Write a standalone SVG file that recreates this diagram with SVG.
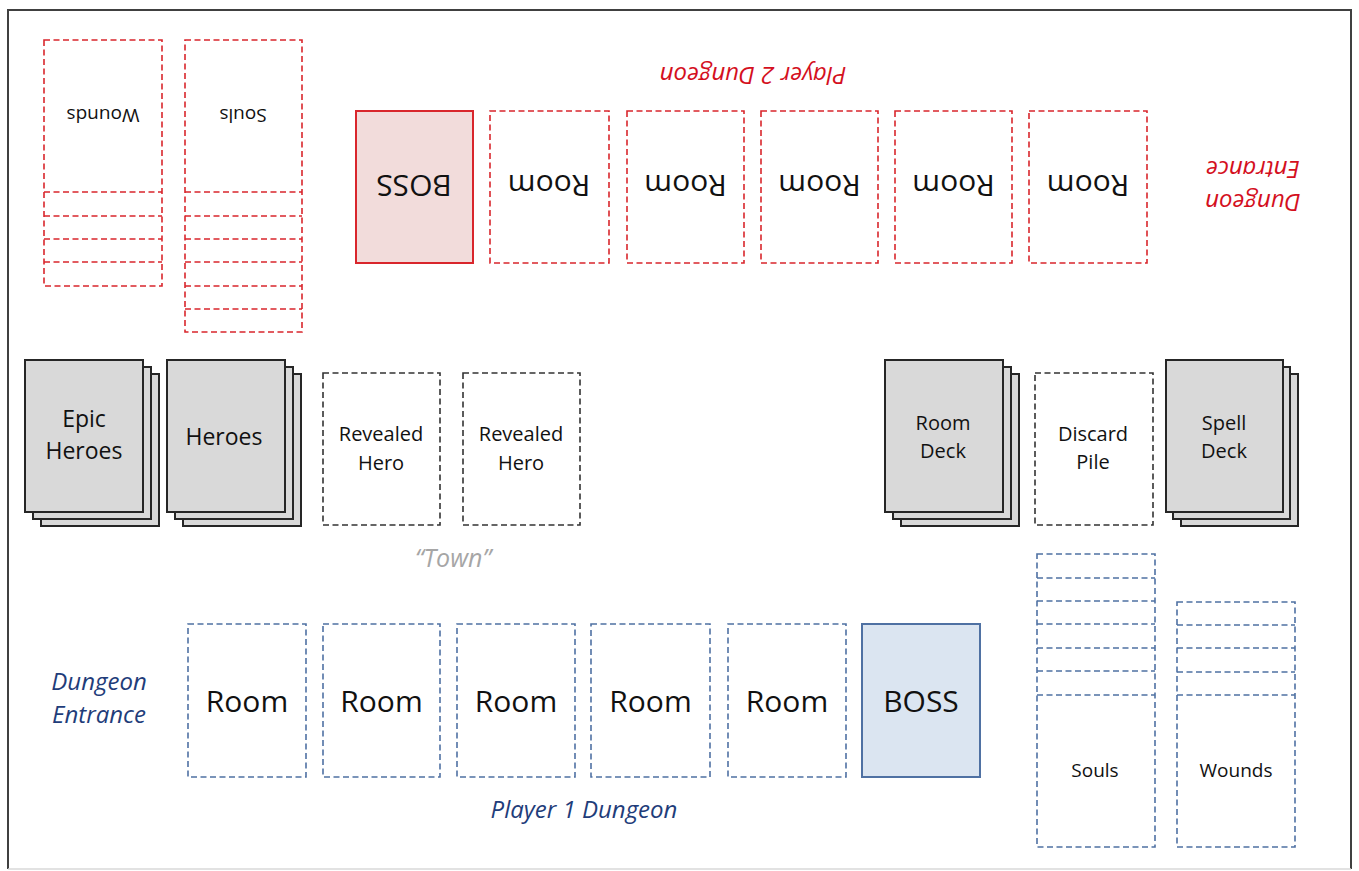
<svg xmlns="http://www.w3.org/2000/svg" width="1359" height="871" viewBox="0 0 1359 871">
<style>
text{font-family:"Open Sans","Noto Sans","Liberation Sans",sans-serif;text-anchor:middle;fill:#111}
.red{fill:none;stroke:#d9262c;stroke-width:1.6;stroke-dasharray:6 3.5}
.blue{fill:none;stroke:#4f71a3;stroke-width:1.6;stroke-dasharray:6 3.5}
.blk{fill:none;stroke:#333;stroke-width:1.6;stroke-dasharray:6 3.5}
.card{fill:#d9d9d9;stroke:#262626;stroke-width:2}
.big{font-size:30px}
.mid{font-size:23px}
.sm{font-size:20px}
.xs{font-size:19px}
.lblr{font-size:24px;font-style:italic;fill:#d4101e}
.lblb{font-size:24px;font-style:italic;fill:#1f3d7a}
.town{font-size:25px;font-style:italic;fill:#a6a6a6}
</style>
<rect x="0" y="0" width="1359" height="871" fill="#fff"/>
<path d="M8 869 V10 H1351 V869" fill="none" stroke="#404040" stroke-width="2"/>
<line x1="8" y1="869" x2="1351" y2="869" stroke="#d9d9d9" stroke-width="1.5"/>
<g id="connectors"></g>

<!-- Player 2 (top, upside-down) -->
<g id="p2-wounds">
<rect class="red" x="44" y="40" width="118" height="246"/>
<path class="red" d="M44 192H162M44 216H162M44 239H162M44 262H162"/>
<text class="xs" x="103" y="122.3" transform="rotate(180 103 115.5)">Wounds</text>
</g>
<g id="p2-souls">
<rect class="red" x="185" y="40" width="117" height="292"/>
<path class="red" d="M185 192H302M185 216H302M185 239H302M185 262H302M185 286H302M185 309H302"/>
<text class="xs" x="243" y="122.3" transform="rotate(180 243 115.5)">Souls</text>
</g>
<g id="p2-title">
<text class="lblr" x="753" y="83.5" transform="rotate(180 753 75)">Player 2 Dungeon</text>
</g>
<g id="p2-boss">
<rect x="356" y="111" width="117" height="152" fill="#f2dcdb" stroke="#d9262c" stroke-width="2"/>
<text class="big" x="414" y="195.5" transform="rotate(180 414 185)">BOSS</text>
</g>
<g id="p2-room1"><rect class="red" x="490" y="111" width="119" height="152"/><text class="big" x="549" y="195.5" transform="rotate(180 549 185)">Room</text></g>
<g id="p2-room2"><rect class="red" x="627" y="111" width="117" height="152"/><text class="big" x="685.5" y="195.5" transform="rotate(180 685.5 185)">Room</text></g>
<g id="p2-room3"><rect class="red" x="761" y="111" width="117" height="152"/><text class="big" x="819.5" y="195.5" transform="rotate(180 819.5 185)">Room</text></g>
<g id="p2-room4"><rect class="red" x="895" y="111" width="117" height="152"/><text class="big" x="953.5" y="195.5" transform="rotate(180 953.5 185)">Room</text></g>
<g id="p2-room5"><rect class="red" x="1029" y="111" width="118" height="152"/><text class="big" x="1088" y="195.5" transform="rotate(180 1088 185)">Room</text></g>
<g id="p2-entrance" transform="rotate(180 1253 185)">
<text class="lblr" x="1253" y="176.5">Dungeon</text>
<text class="lblr" x="1253" y="209.5">Entrance</text>
</g>

<!-- Middle row -->
<g id="epic-heroes">
<rect class="card" x="41" y="374" width="118" height="152"/>
<rect class="card" x="33" y="367" width="118" height="152"/>
<rect class="card" x="25" y="360" width="118" height="152"/>
<text class="mid" x="84" y="427">Epic</text>
<text class="mid" x="84" y="459">Heroes</text>
</g>
<g id="heroes">
<rect class="card" x="183" y="374" width="118" height="152"/>
<rect class="card" x="175" y="367" width="118" height="152"/>
<rect class="card" x="167" y="360" width="118" height="152"/>
<text class="mid" x="224" y="445">Heroes</text>
</g>
<g id="revealed1">
<rect class="blk" x="323" y="373" width="117" height="152"/>
<text class="sm" x="381" y="441">Revealed</text>
<text class="sm" x="381" y="470">Hero</text>
</g>
<g id="revealed2">
<rect class="blk" x="463" y="373" width="117" height="152"/>
<text class="sm" x="521" y="441">Revealed</text>
<text class="sm" x="521" y="470">Hero</text>
</g>
<g id="town"><text class="town" x="453" y="567">“Town”</text></g>
<g id="room-deck">
<rect class="card" x="901" y="374" width="118" height="152"/>
<rect class="card" x="893" y="367" width="118" height="152"/>
<rect class="card" x="885" y="360" width="118" height="152"/>
<text class="sm" x="943" y="430">Room</text>
<text class="sm" x="943" y="458">Deck</text>
</g>
<g id="discard">
<rect class="blk" x="1035" y="373" width="118" height="152"/>
<text class="sm" x="1093" y="441">Discard</text>
<text class="sm" x="1093" y="469">Pile</text>
</g>
<g id="spell-deck">
<rect class="card" x="1181" y="374" width="117" height="152"/>
<rect class="card" x="1173" y="367" width="117" height="152"/>
<rect class="card" x="1166" y="360" width="117" height="152"/>
<text class="sm" x="1224" y="430">Spell</text>
<text class="sm" x="1224" y="458">Deck</text>
</g>

<!-- Player 1 (bottom) -->
<g id="p1-entrance">
<text class="lblb" x="99" y="690">Dungeon</text>
<text class="lblb" x="99" y="723">Entrance</text>
</g>
<g id="p1-room1"><rect class="blue" x="188" y="624" width="118" height="153"/><text class="big" x="247" y="712">Room</text></g>
<g id="p1-room2"><rect class="blue" x="323" y="624" width="117" height="153"/><text class="big" x="381.5" y="712">Room</text></g>
<g id="p1-room3"><rect class="blue" x="457" y="624" width="118" height="153"/><text class="big" x="516" y="712">Room</text></g>
<g id="p1-room4"><rect class="blue" x="591" y="624" width="119" height="153"/><text class="big" x="650.5" y="712">Room</text></g>
<g id="p1-room5"><rect class="blue" x="728" y="624" width="118" height="153"/><text class="big" x="787" y="712">Room</text></g>
<g id="p1-boss">
<rect x="862" y="624" width="118" height="153" fill="#dbe5f1" stroke="#4f71a3" stroke-width="2"/>
<text class="big" x="921" y="712">BOSS</text>
</g>
<g id="p1-title"><text class="lblb" x="584" y="818">Player 1 Dungeon</text></g>
<g id="p1-souls">
<rect class="blue" x="1037" y="554" width="118" height="293"/>
<path class="blue" d="M1037 578H1155M1037 601H1155M1037 624H1155M1037 648H1155M1037 671H1155M1037 695H1155"/>
<text class="xs" x="1095" y="777">Souls</text>
</g>
<g id="p1-wounds">
<rect class="blue" x="1177" y="602" width="118" height="245"/>
<path class="blue" d="M1177 625H1295M1177 648H1295M1177 672H1295M1177 695H1295"/>
<text class="xs" x="1236" y="777">Wounds</text>
</g>
</svg>
